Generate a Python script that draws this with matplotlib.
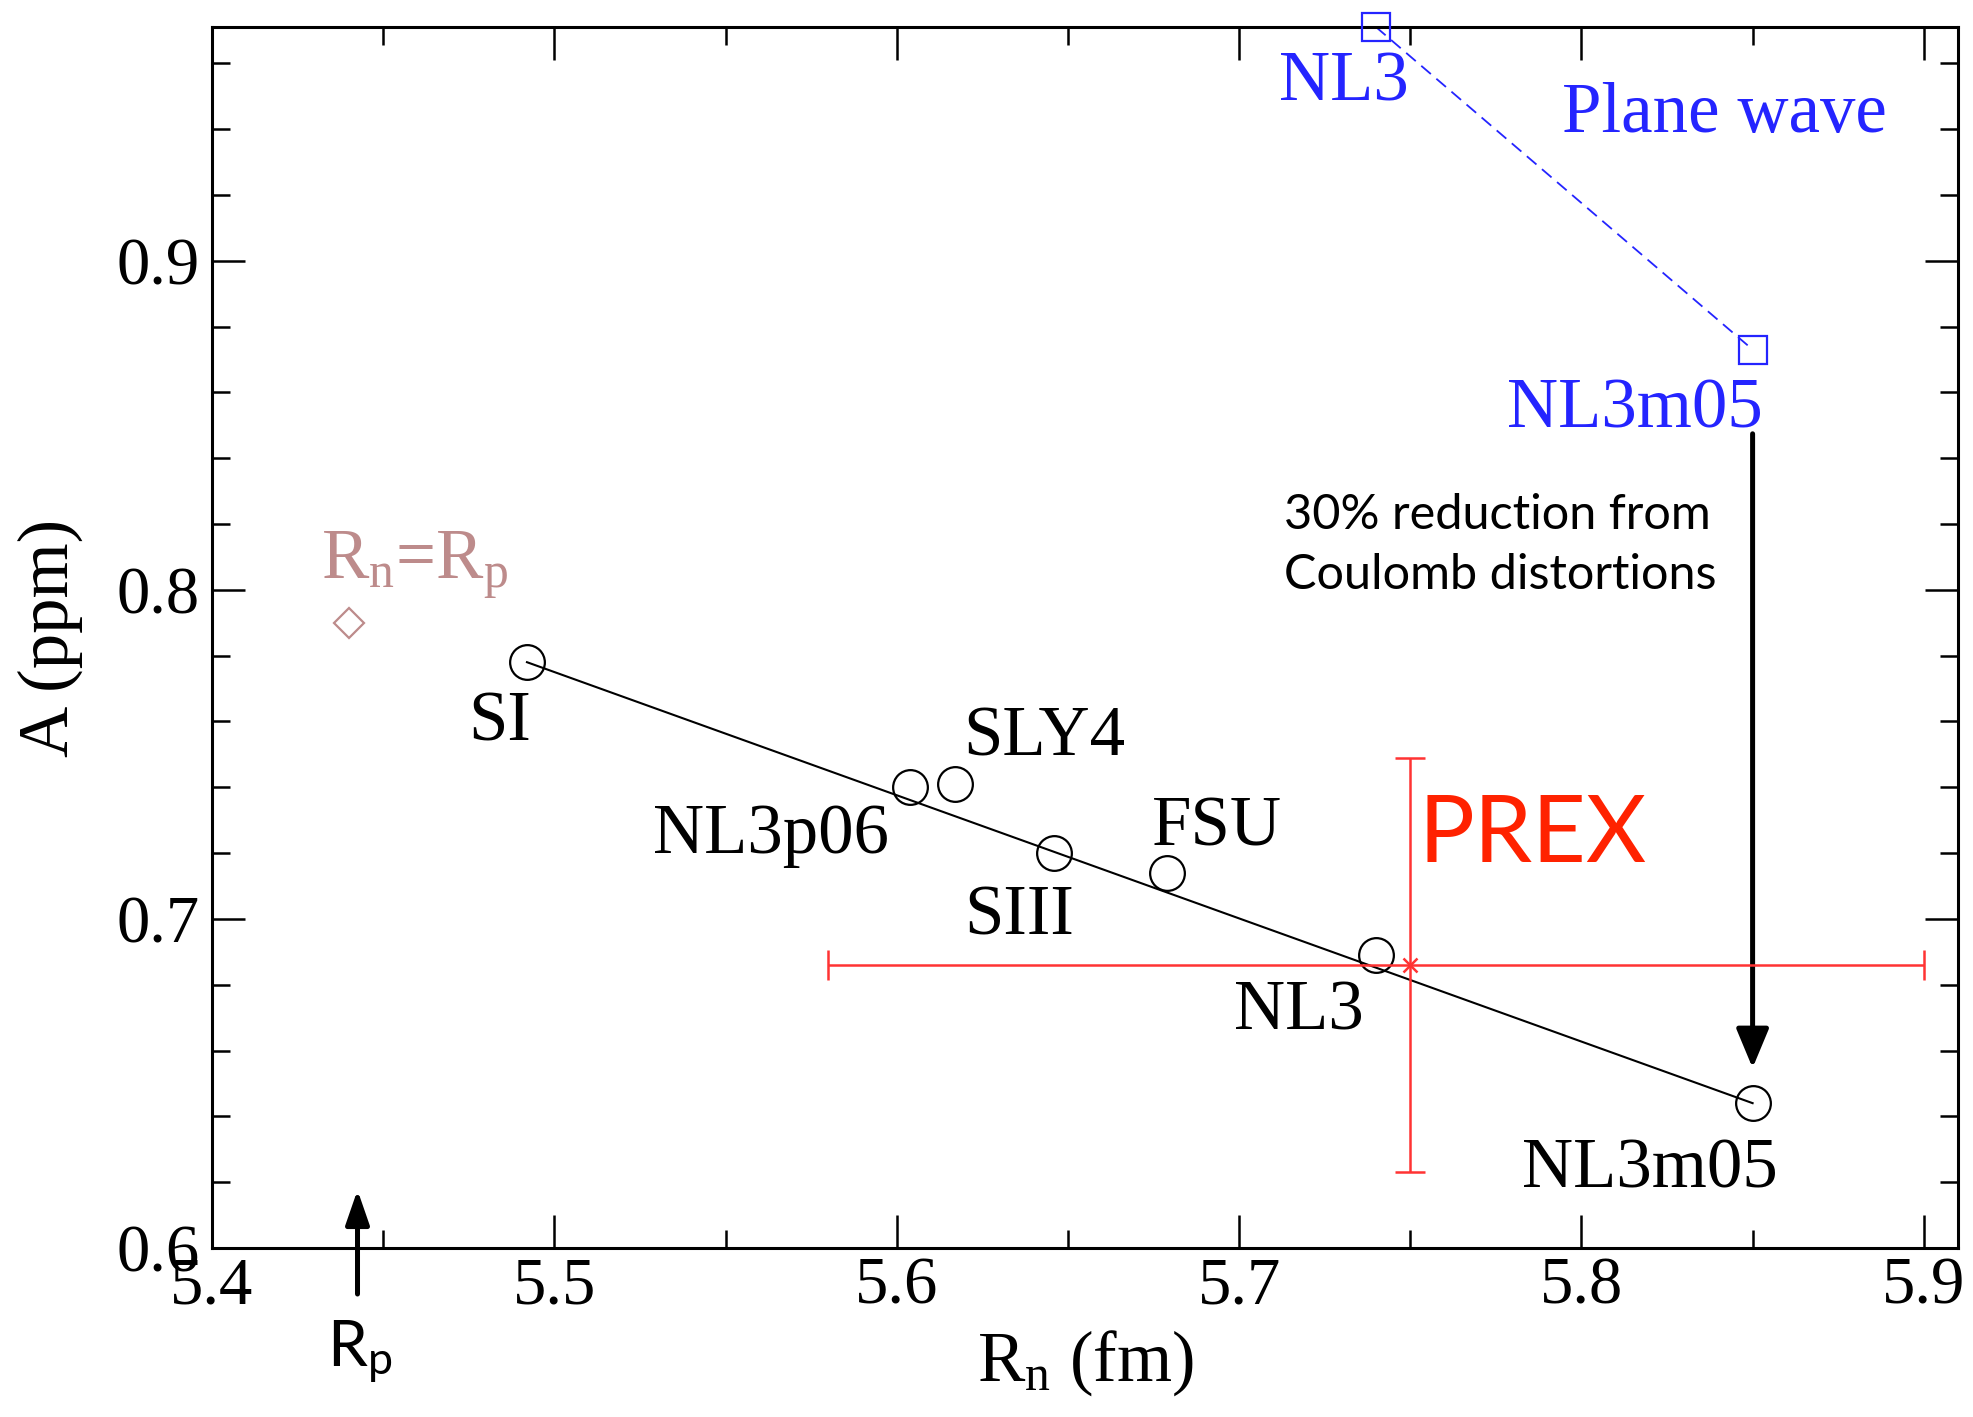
"""
Parity-violating asymmetry A versus the neutron radius R_n of 208Pb for a
set of mean-field models, with the PREX measurement and the plane-wave values.
"""

import matplotlib.pyplot as plt
from matplotlib.ticker import MultipleLocator, FormatStrFormatter

# full distorted-wave calculation
MODELS = ["SI", "NL3p06", "SLY4", "SIII", "FSU", "NL3", "NL3m05"]
RN = [5.492, 5.604, 5.617, 5.646, 5.679, 5.740, 5.850]
ASYM = [0.778, 0.740, 0.741, 0.720, 0.714, 0.689, 0.644]

# plane wave (no Coulomb distortions)
PW_MODELS = ["NL3", "NL3m05"]
PW_RN = [5.740, 5.850]
PW_ASYM = [0.971, 0.873]

# R_n = R_p reference point and the proton radius
RN_EQ_RP = 5.440
ASYM_EQ_RP = 0.790
R_PROTON = 5.4425

# PREX measurement
PREX_RN = 5.75
PREX_RN_ERR = [0.17, 0.15]
PREX_ASYM = 0.686
PREX_ASYM_ERR = 0.063

SERIF = "Liberation Serif"
SANS = "Lato"
BLUE = "#2424ff"
RED = "#ff3333"
ROSY = "#bd8b8b"


def render_plot(name):
    plt.rcParams["font.family"] = SERIF
    plt.rcParams["mathtext.fontset"] = "custom"
    plt.rcParams["mathtext.rm"] = SERIF
    plt.rcParams["mathtext.it"] = SERIF + ":italic"
    plt.rcParams["mathtext.sf"] = SANS

    fig = plt.figure(figsize=(19.74, 14.17), dpi=100)
    ax = fig.add_axes([0.1074, 0.1193, 0.8845, 0.8616])

    # model curve and points
    ax.plot([RN[0], RN[-1]], [ASYM[0], ASYM[-1]], color="black", lw=1.5, zorder=2)
    ax.plot(RN, ASYM, "o", ms=25, mfc="none", mec="black", mew=1.6, zorder=3)

    label_pos = {
        "SI": (5.484, 0.7543),
        "NL3p06": (5.5634, 0.7199),
        "SLY4": (5.6432, 0.7497),
        "SIII": (5.6359, 0.6954),
        "FSU": (5.6936, 0.7222),
        "NL3": (5.7175, 0.6663),
        "NL3m05": (5.82, 0.6185),
    }
    for model in MODELS:
        x, y = label_pos[model]
        ax.text(x, y, model, fontsize=51, ha="center", va="baseline")

    # plane wave
    ax.plot(PW_RN, PW_ASYM, "--", color=BLUE, lw=1.3, dashes=(7, 4), zorder=2)
    ax.plot(PW_RN, PW_ASYM, "s", ms=20, mfc="none", mec=BLUE, mew=1.6,
            clip_on=False, zorder=3)
    pw_pos = {"NL3": (5.7307, 0.9487), "NL3m05": (5.8156, 0.8492)}
    for model in PW_MODELS:
        x, y = pw_pos[model]
        ax.text(x, y, model, fontsize=51, color=BLUE, ha="center", va="baseline")
    ax.text(5.8417, 0.9392, "Plane wave", fontsize=51, color=BLUE,
            ha="center", va="baseline")

    # R_n = R_p
    ax.plot([RN_EQ_RP], [ASYM_EQ_RP], "D", ms=15, mfc="none", mec=ROSY, mew=1.6)
    ax.text(5.4318, 0.8033, r"R$_{\rm n}$=R$_{\rm p}$", fontsize=51, color=ROSY,
            ha="left", va="baseline")

    # PREX
    ax.errorbar([PREX_RN], [PREX_ASYM],
                xerr=[[PREX_RN_ERR[0]], [PREX_RN_ERR[1]]], yerr=PREX_ASYM_ERR,
                fmt="x", ms=10, mew=1.8, color=RED, ecolor=RED, elinewidth=1.8,
                capsize=10.5, capthick=1.8, zorder=4)
    ax.text(5.7858, 0.7172, "PREX", fontsize=67, family=SANS, color="#ff2200",
            ha="center", va="baseline")

    # Coulomb distortion arrow
    ax.annotate("", xy=(PW_RN[1], 0.6547), xytext=(PW_RN[1], 0.8474),
                arrowprops=dict(arrowstyle="-|>,head_width=0.5,head_length=1.2",
                                color="black", lw=3.6, mutation_scale=20,
                                shrinkA=0, shrinkB=0))
    for text, y in [("30% reduction from", 0.8185), ("Coulomb distortions", 0.8003)]:
        ax.text(5.713, y, text, fontsize=35, family=SANS, ha="left", va="baseline")

    # proton radius marker below the axis
    ax.annotate("", xy=(R_PROTON, 0.6176), xytext=(R_PROTON, 0.586),
                annotation_clip=False,
                arrowprops=dict(arrowstyle="-|>,head_width=0.45,head_length=1.3",
                                color="black", lw=3.6, mutation_scale=16,
                                shrinkA=0, shrinkB=0, clip_on=False))
    ax.text(5.4336, 0.5641, r"$\mathsf{R}_\mathsf{p}$", fontsize=46,
            ha="left", va="baseline", clip_on=False)

    ax.set_xlim(5.4, 5.91)
    ax.set_ylim(0.6, 0.971)
    ax.xaxis.set_major_locator(MultipleLocator(0.1))
    ax.xaxis.set_minor_locator(MultipleLocator(0.05))
    ax.yaxis.set_major_locator(MultipleLocator(0.1))
    ax.yaxis.set_minor_locator(MultipleLocator(0.02))
    ax.xaxis.set_major_formatter(FormatStrFormatter("%.1f"))
    ax.yaxis.set_major_formatter(FormatStrFormatter("%.1f"))

    ax.tick_params(which="both", direction="in", top=True, right=True, width=1.8)
    ax.tick_params(which="major", length=24)
    ax.tick_params(which="minor", length=13)
    ax.tick_params(axis="x", pad=6)
    ax.tick_params(axis="y", pad=9)
    for lab in ax.get_xticklabels() + ax.get_yticklabels():
        lab.set_fontsize(48)
    for spine in ax.spines.values():
        spine.set_linewidth(2.2)

    ax.set_xlabel(r"R$_{\rm n}$ (fm)", fontsize=51)
    ax.set_ylabel("A (ppm)", fontsize=51)
    ax.xaxis.set_label_coords(0.5, -0.066)
    ax.yaxis.set_label_coords(-0.074, 0.5)

    fig.savefig(name, dpi=100)
    plt.close(fig)


if __name__ == "__main__":
    render_plot("out.png")
